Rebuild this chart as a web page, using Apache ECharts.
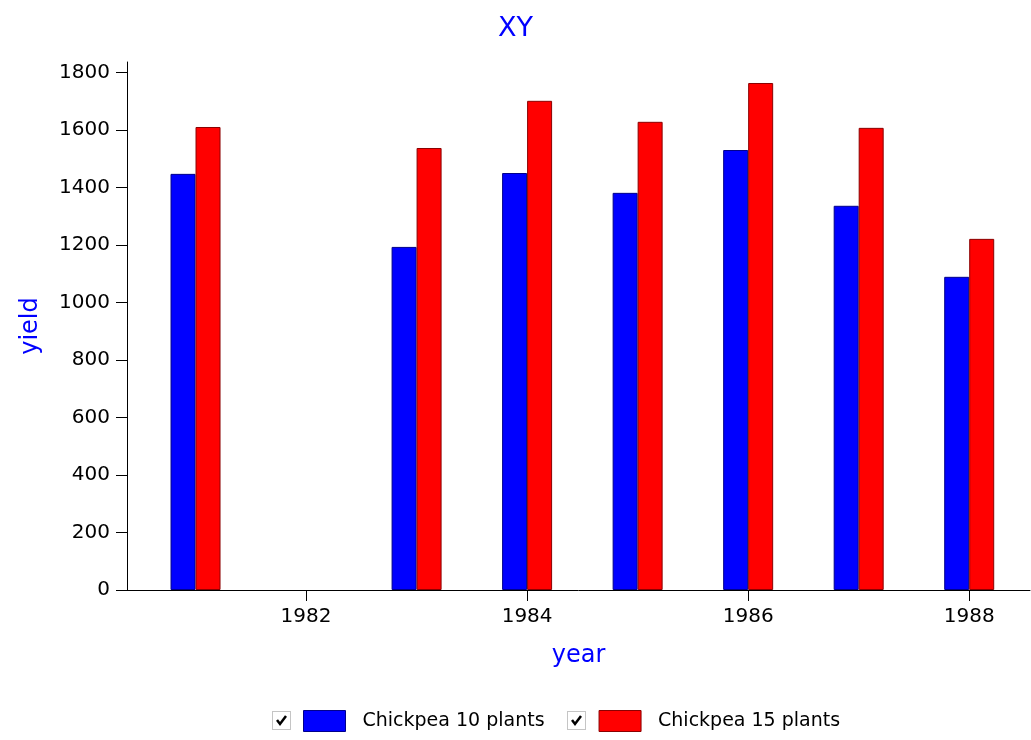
<!DOCTYPE html>
<html>
<head>
<meta charset="utf-8">
<script src="https://cdn.jsdelivr.net/npm/echarts@6/dist/echarts.min.js"></script>
<style>
html,body{margin:0;padding:0;background:#fff;}
#main{width:1031px;height:740px;}
</style>
</head>
<body>
<div id="main"></div>
<script>
var years = [1981, 1983, 1984, 1985, 1986, 1987, 1988];
var chickpea10 = [1447, 1193, 1450, 1381, 1530, 1336, 1089];
var chickpea15 = [1610, 1537, 1701, 1628, 1763, 1607, 1221];
var xTicks = [1982, 1984, 1986, 1988];
var yTicks = [0, 200, 400, 600, 800, 1000, 1200, 1400, 1600, 1800];
var seriesNames = ['Chickpea 10 plants', 'Chickpea 15 plants'];

function pairs(xs, vs) { return xs.map(function (x, i) { return [x, vs[i]]; }); }

var FONT = 'DejaVu Sans';
var chart = echarts.init(document.getElementById('main'), null, {renderer: 'canvas'});

function checkbox(x, y) {
  return {
    type: 'group', left: x, top: y,
    children: [
      {type: 'rect', shape: {x: 0.5, y: 0.5, width: 18, height: 18},
       style: {fill: '#fff', stroke: '#8a8a8a', lineWidth: 1, lineDash: [1, 1]}},
      {type: 'polyline', shape: {points: [[5, 9], [8, 13], [14, 5]]},
       style: {stroke: '#000', lineWidth: 2.5, fill: null}}
    ]
  };
}

chart.setOption({
  animation: false,
  title: {
    text: 'XY', left: 'center', top: 10,
    textStyle: {color: '#0000ff', fontFamily: FONT, fontSize: 27, fontWeight: 'normal'}
  },
  grid: {left: 127, right: 1, top: 62, bottom: 150, containLabel: false},
  legend: {
    left: 298, top: 705,
    itemWidth: 42, itemHeight: 21, itemGap: 54,
    icon: 'rect',
    textStyle: {fontFamily: FONT, fontSize: 19, color: '#000', padding: [0, 0, 0, 12]},
    itemStyle: {borderWidth: 1},
    selectedMode: false,
    data: seriesNames
  },
  graphic: [checkbox(272, 711), checkbox(567, 711)],
  xAxis: {
    type: 'value',
    min: 1980.38, max: 1988.55,
    name: 'year', nameLocation: 'middle', nameGap: 54,
    nameTextStyle: {color: '#0000ff', fontFamily: FONT, fontSize: 24},
    splitLine: {show: false},
    axisLine: {show: true, lineStyle: {color: '#000', width: 1}},
    axisTick: {show: true, length: 11, lineStyle: {color: '#000'}, customValues: xTicks},
    axisLabel: {color: '#000', fontFamily: FONT, fontSize: 20, margin: 17, customValues: xTicks,
      formatter: function (v) { return String(v); }}
  },
  yAxis: {
    type: 'value',
    min: 0, max: 1836,
    name: 'yield', nameLocation: 'middle', nameGap: 84, nameRotate: 90,
    nameTextStyle: {color: '#0000ff', fontFamily: FONT, fontSize: 24},
    splitLine: {show: false},
    axisLine: {show: true, lineStyle: {color: '#000', width: 1}},
    axisTick: {show: true, length: 11, lineStyle: {color: '#000'}, customValues: yTicks},
    axisLabel: {color: '#000', fontFamily: FONT, fontSize: 20, margin: 17, customValues: yTicks,
      formatter: function (v) { return String(v); }}
  },
  series: [
    {
      name: seriesNames[0], type: 'bar', barWidth: 25, barGap: '0%',
      itemStyle: {color: '#0000ff', borderColor: '#00008b', borderWidth: 1},
      data: pairs(years, chickpea10)
    },
    {
      name: seriesNames[1], type: 'bar', barWidth: 25, barGap: '0%',
      itemStyle: {color: '#ff0000', borderColor: '#8b0000', borderWidth: 1},
      data: pairs(years, chickpea15)
    }
  ]
});
</script>
</body>
</html>
